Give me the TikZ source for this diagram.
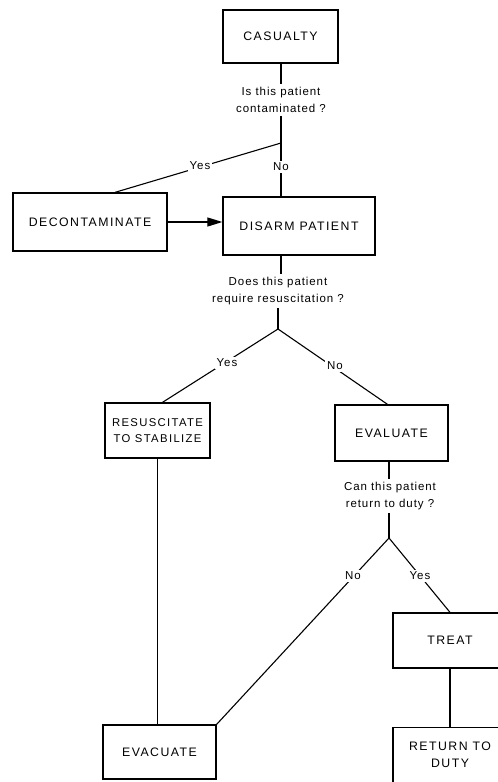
\documentclass[tikz,border=0pt]{standalone}
\usepackage{fontspec}
\setmainfont{Liberation Sans}
\newfontfamily\boxfont[LetterSpace=12]{Liberation Sans}
\newfontfamily\qfont[LetterSpace=8]{Liberation Sans}
\usetikzlibrary{arrows.meta,calc}
\begin{document}
\begin{tikzpicture}[x=1pt,y=-1pt,
  stepbox/.style={draw,line width=1.3pt,inner sep=0pt,align=center,
     font=\boxfont\fontsize{12.3}{16.5}\selectfont},
  qtext/.style={align=center,inner sep=3pt,font=\qfont\fontsize{11.5}{17}\selectfont},
  lab/.style={fill=white,inner sep=2pt,font=\qfont\fontsize{11.5}{12}\selectfont},
  conn/.style={line width=1.1pt}]
\useasboundingbox (0,0) rectangle (498,782);
\clip (0,0) rectangle (498,782);
% boxes
\node[stepbox,minimum width=115pt,minimum height=53pt] (cas) at (280.5,36.5) {CASUALTY};
\node[stepbox,minimum width=154pt,minimum height=58pt] (deco) at (90,222) {DECONTAMINATE};
\node[stepbox,minimum width=152pt,minimum height=58pt] (dis) at (299,226) {DISARM PATIENT};
\node[stepbox,minimum width=105pt,minimum height=55pt,
      font=\boxfont\fontsize{11.3}{16.5}\selectfont] (res) at (157.5,430.5) {RESUSCITATE\\TO STABILIZE};
\node[stepbox,minimum width=113pt,minimum height=56pt] (eva) at (391.5,433) {EVALUATE};
\node[stepbox,minimum width=113pt,minimum height=54pt] (evac) at (159.5,752) {EVACUATE};
\node[stepbox,minimum width=114pt,minimum height=55pt] (treat) at (450,640.5) {TREAT};
\node[stepbox,minimum width=114pt,minimum height=55pt] (ret) at (450,755) {RETURN TO\\DUTY};
% questions
\node[qtext] (q1) at (281,100) {Is this patient\\contaminated ?};
\node[qtext] (q2) at (278,291) {Does this patient\\require resuscitation ?};
\node[qtext] (q3) at (390,496) {Can this patient\\return to duty ?};
% branch points
\coordinate (b1) at (281,143);
\coordinate (b2) at (278,329);
\coordinate (b3) at (389,538);
\coordinate (decoTop) at ($(deco.north)+(25,0)$);
\coordinate (resTop) at ($(res.north)+(5,0)$);
\coordinate (evaTop) at ($(eva.north)+(-4,0)$);
% connectors
\draw[conn] (cas.south -| q1) -- (q1.north);
\draw[conn] (q1.south) -- (b1);
\draw[conn] (b1) -- (b1 |- dis.north);
\draw[conn] (b1) -- (decoTop);
\draw[conn,-{Triangle[length=15pt,width=9pt]}] (deco.east) -- (deco.east -| dis.west);
\draw[conn] (b1 |- dis.south) -- (b1 |- q2.north);
\draw[conn] (b2 |- q2.south) -- (b2);
\draw[conn] (b2) -- (resTop);
\draw[conn] (b2) -- (evaTop);
\draw[conn] (res.south) -- (res.south |- evac.north);
\draw[conn] (b3 |- eva.south) -- (b3 |- q3.north);
\draw[conn] (b3 |- q3.south) -- (b3);
\draw[conn] (b3) -- (evac.north east);
\draw[conn] (b3) -- (treat.north);
\draw[conn] (treat.south) -- (ret.north);
% labels
\node[lab] (y1) at (200,166) {Yes};
\node[lab] (n1) at (281,167) {No};
\node[lab] (y2) at (227,363) {Yes};
\node[lab] (n2) at (335,366) {No};
\node[lab] (n3) at (353,576) {No};
\node[lab] (y3) at (420,576) {Yes};
\end{tikzpicture}
\end{document}
